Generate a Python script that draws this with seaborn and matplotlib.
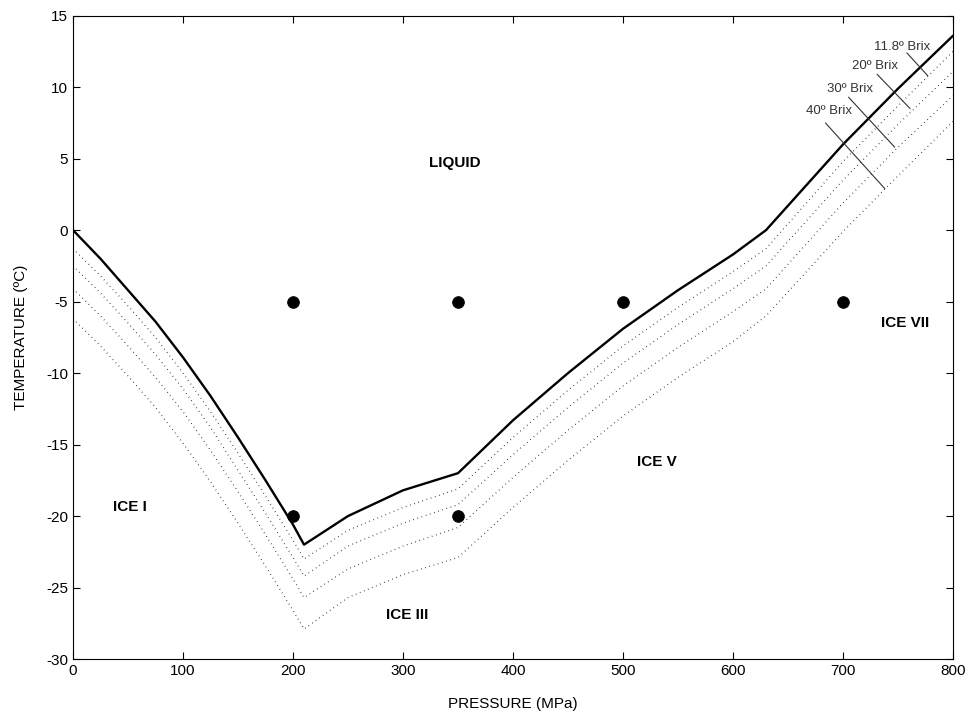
import pandas as pd
import matplotlib
matplotlib.use('Agg')
import matplotlib.pyplot as plt
import seaborn as sns

# pressure knots (MPa) shared by all curves
pressure = [0, 25, 50, 75, 100, 125, 150, 175, 200, 210, 250, 300, 350,
            400, 450, 500, 550, 600, 630, 700, 750, 800]

# melting curve of pure water (solid line)
water = [0.0, -2.0, -4.2, -6.4, -8.9, -11.6, -14.5, -17.5, -20.6, -22.0, -20.0, -18.2, -17.0,
         -13.3, -10.0, -6.9, -4.2, -1.7, 0.0, 6.0, 9.9, 13.6]

# juices at several Brix (dotted lines)
brix_118 = [-1.3, -3.2, -5.3, -7.5, -10.0, -12.7, -15.6, -18.6, -21.7, -23.0, -21.0, -19.4, -18.1,
            -14.5, -11.2, -8.1, -5.4, -2.9, -1.3, 4.8, 8.7, 12.5]
brix_20 = [-2.5, -4.4, -6.5, -8.7, -11.1, -13.8, -16.8, -19.8, -22.9, -24.2, -22.1, -20.5, -19.2,
           -15.7, -12.4, -9.3, -6.6, -4.1, -2.5, 3.5, 7.4, 11.1]
brix_30 = [-4.1, -6.0, -8.1, -10.3, -12.7, -15.4, -18.3, -21.3, -24.4, -25.7, -23.7, -22.1, -20.8,
           -17.3, -14.0, -10.9, -8.2, -5.7, -4.1, 1.9, 5.8, 9.4]
brix_40 = [-6.2, -8.1, -10.2, -12.4, -14.9, -17.6, -20.5, -23.5, -26.6, -27.9, -25.7, -24.1, -22.9,
           -19.4, -16.1, -13.0, -10.3, -7.8, -6.0, -0.1, 3.8, 7.6]

# experimental conditions (dots)
exp_p = [200, 350, 500, 700, 200, 350]
exp_t = [-5, -5, -5, -5, -20, -20]

# Brix labels and their leader lines
brix_names = ['11.8º Brix', '20º Brix', '30º Brix', '40º Brix']
brix_text_xy = [(779, 12.8), (750, 11.5), (727, 9.9), (708, 8.3)]
brix_lead = [((758, 12.4), (777, 10.8)), ((731, 10.9), (761, 8.5)),
             ((705, 9.3), (747, 5.8)), ((684, 7.5), (738, 2.9))]

# phase region labels
phases = ['LIQUID', 'ICE I', 'ICE III', 'ICE V', 'ICE VII']
phase_xy = [(347, 4.7), (52, -19.4), (304, -26.9), (531, -16.2), (756, -6.5)]

sns.set_style('white')
plt.rcParams['font.family'] = ['Liberation Sans', 'DejaVu Sans']
plt.rcParams['axes.unicode_minus'] = False
plt.rcParams['text.color'] = 'black'
plt.rcParams['axes.labelcolor'] = 'black'

df = pd.DataFrame({'p': pressure, 'water': water, 'b118': brix_118,
                   'b20': brix_20, 'b30': brix_30, 'b40': brix_40})

fig = plt.figure(figsize=(9.72, 7.2), dpi=100)
ax = fig.add_axes([0.0751, 0.0847, 0.9054, 0.8935])

for col in ['b118', 'b20', 'b30', 'b40']:
    sns.lineplot(data=df, x='p', y=col, ax=ax, color='black', lw=0.9,
                 linestyle=(0, (0.5, 3)), sort=False, estimator=None)
sns.lineplot(data=df, x='p', y='water', ax=ax, color='black', lw=1.7,
             sort=False, estimator=None)

sns.scatterplot(x=exp_p, y=exp_t, ax=ax, color='black', s=70, edgecolor='black', zorder=5)

for name, (tx, ty), ((x0, y0), (x1, y1)) in zip(brix_names, brix_text_xy, brix_lead):
    ax.text(tx, ty, name, ha='right', va='center', fontsize=9.5, color='#333333')
    ax.plot([x0, x1], [y0, y1], color='#333333', lw=0.8)

for name, (tx, ty) in zip(phases, phase_xy):
    ax.text(tx, ty, name, ha='center', va='center', fontsize=11, fontweight='bold')

ax.set_xlim(0, 800)
ax.set_ylim(-30, 15)
ax.set_xticks(range(0, 801, 100))
ax.set_yticks(range(-30, 16, 5))
ax.tick_params(direction='in', length=5, width=0.8, labelsize=11,
               top=True, right=True, bottom=True, left=True, colors='black')
for s in ax.spines.values():
    s.set_color('black')
    s.set_linewidth(0.8)
ax.set_xlabel('PRESSURE (MPa)', fontsize=11, labelpad=14)
ax.set_ylabel('TEMPERATURE (ºC)', fontsize=11, labelpad=13)

fig.savefig('out.png', dpi=100)
